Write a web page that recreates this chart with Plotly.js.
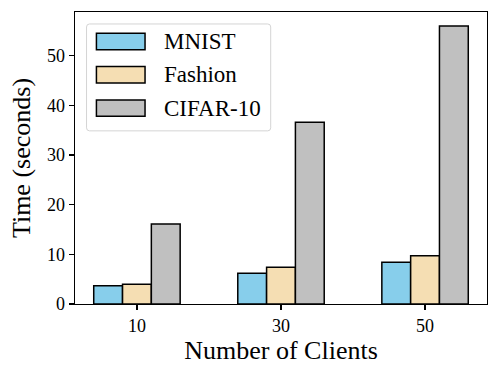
<!DOCTYPE html>
<html>
<head>
<meta charset="utf-8">
<script src="https://cdn.plot.ly/plotly-3.0.1.min.js"></script>
<style>
  html, body { margin: 0; padding: 0; background: #fff; }
  #plot { width: 499px; height: 378px; }
</style>
</head>
<body>
<div id="plot"></div>
<script>
// Data
const clients = ['10', '30', '50'];
const seriesNames = ['MNIST', 'Fashion', 'CIFAR-10'];
const mnistTime = [3.7, 6.2, 8.4];
const fashionTime = [4.0, 7.4, 9.7];
const cifarTime = [16.1, 36.6, 56.0];

const colors = ['#87CEEB', '#F5DEB3', '#C0C0C0'];
const font = 'Liberation Serif, Times New Roman, serif';

const values = [mnistTime, fashionTime, cifarTime];
const traces = values.map((v, i) => ({
    type: 'bar',
    x: clients,
    y: v,
    name: seriesNames[i],
    marker: { color: colors[i], line: { color: '#000', width: 1.5 } },
    showlegend: false
}));

// rounded box in paper coords (corner radius ~3px)
function roundedBox(x0, x1, y0, y1) {
    const rx = 3 / 412, ry = 3 / 292;
    return `M${x0 + rx},${y0} L${x1 - rx},${y0} Q${x1},${y0} ${x1},${y0 + ry} ` +
        `L${x1},${y1 - ry} Q${x1},${y1} ${x1 - rx},${y1} ` +
        `L${x0 + rx},${y1} Q${x0},${y1} ${x0},${y1 - ry} ` +
        `L${x0},${y0 + ry} Q${x0},${y0} ${x0 + rx},${y0} Z`;
}

// Hand-made legend so the swatches get matplotlib-like proportions
const shapes = [{
    type: 'path', xref: 'paper', yref: 'paper',
    path: roundedBox(0.028, 0.475, 0.593, 0.959),
    line: { color: '#d4d4d4', width: 1 },
    fillcolor: 'rgba(255,255,255,0.8)', layer: 'above'
}];
const annotations = [];
const rowY = [0.899, 0.785, 0.671];
seriesNames.forEach((name, i) => {
    shapes.push({
        type: 'rect', xref: 'paper', yref: 'paper',
        x0: 0.052, x1: 0.170, y0: rowY[i] - 0.028, y1: rowY[i] + 0.028,
        line: { color: '#000', width: 1.5 },
        fillcolor: colors[i], layer: 'above'
    });
    annotations.push({
        xref: 'paper', yref: 'paper', x: 0.211, y: rowY[i],
        xanchor: 'left', yanchor: 'middle', showarrow: false,
        text: name, font: { family: font, size: 23, color: '#000' }
    });
});

const layout = {
    width: 499,
    height: 378,
    margin: { l: 75, r: 12, t: 12, b: 74 },
    paper_bgcolor: '#fff',
    plot_bgcolor: '#fff',
    font: { family: font, size: 18, color: '#000' },
    barmode: 'group',
    bargap: 0.4,
    bargroupgap: 0,
    xaxis: {
        type: 'category',
        range: [-0.43, 2.43],
        showgrid: false,
        showline: true, mirror: true, linecolor: '#000', linewidth: 1.3,
        ticks: 'outside', ticklen: 5, tickwidth: 1.2, tickcolor: '#000',
        tickfont: { size: 18 },
        title: { text: 'Number of Clients', font: { size: 26 }, standoff: 6 }
    },
    yaxis: {
        range: [0, 58.8],
        dtick: 10,
        showgrid: false, zeroline: false,
        showline: true, mirror: true, linecolor: '#000', linewidth: 1.3,
        ticks: 'outside', ticklen: 5, tickwidth: 1.2, tickcolor: '#000',
        tickfont: { size: 18 },
        title: { text: 'Time (seconds)', font: { size: 26 }, standoff: 9 }
    },
    shapes: shapes,
    annotations: annotations
};

Plotly.newPlot('plot', traces, layout, { displayModeBar: false, staticPlot: true });
</script>
</body>
</html>
